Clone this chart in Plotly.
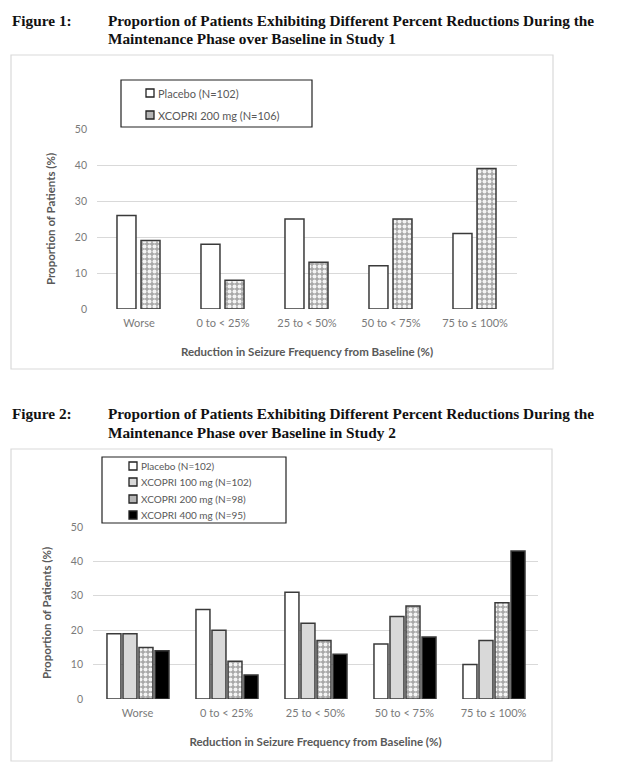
import plotly.graph_objects as go

W, H = 625, 769

categories = ["Worse", "0 to < 25%", "25 to < 50%", "50 to < 75%", "75 to ≤ 100%"]

# Study 1
s1_names = ["Placebo (N=102)", "XCOPRI 200 mg (N=106)"]
s1_placebo = [26, 18, 25, 12, 21]
s1_x200 = [19, 8, 13, 25, 39]

# Study 2
s2_names = ["Placebo (N=102)", "XCOPRI 100 mg (N=102)", "XCOPRI 200 mg (N=98)", "XCOPRI 400 mg (N=95)"]
s2_placebo = [19, 26, 31, 16, 10]
s2_x100 = [19, 20, 22, 24, 17]
s2_x200 = [15, 11, 17, 27, 28]
s2_x400 = [14, 7, 13, 18, 43]

yticks = [0, 10, 20, 30, 40, 50]

TICK_TXT = "#7a7a7a"
TITLE_TXT = "#595959"
GRID = "#d9d9d9"
EDGE = "#3a3a3a"
FONT = "Lato, 'Open Sans', sans-serif"
SERIF = "'Liberation Serif', 'Times New Roman', serif"


def px_x(x):
    return x / W


def px_y(y):
    return 1 - y / H


pattern200 = dict(shape=".", bgcolor="#a8a8a8", fgcolor="#f4f4f4", size=5, solidity=0.5, fillmode="replace")
line = dict(color=EDGE, width=1.5)

fig = go.Figure()

# ---- Figure 1 traces
fig.add_trace(go.Bar(x=categories, y=s1_placebo, name=s1_names[0],
                     marker=dict(color="white", line=line),
                     width=0.226, offset=-0.262, xaxis="x", yaxis="y"))
fig.add_trace(go.Bar(x=categories, y=s1_x200, name=s1_names[1],
                     marker=dict(color="#a8a8a8", pattern=pattern200, line=line),
                     width=0.226, offset=0.024, xaxis="x", yaxis="y"))

# ---- Figure 2 traces
w2 = 0.157
fig.add_trace(go.Bar(x=categories, y=s2_placebo, name=s2_names[0],
                     marker=dict(color="white", line=line),
                     width=w2, offset=-0.343, xaxis="x2", yaxis="y2"))
fig.add_trace(go.Bar(x=categories, y=s2_x100, name=s2_names[1],
                     marker=dict(color="#d9d9d9", line=line),
                     width=w2, offset=-0.163, xaxis="x2", yaxis="y2"))
fig.add_trace(go.Bar(x=categories, y=s2_x200, name=s2_names[2],
                     marker=dict(color="#a8a8a8", pattern=pattern200, line=line),
                     width=w2, offset=0.017, xaxis="x2", yaxis="y2"))
fig.add_trace(go.Bar(x=categories, y=s2_x400, name=s2_names[3],
                     marker=dict(color="black", line=line),
                     width=w2, offset=0.197, xaxis="x2", yaxis="y2"))

xtitle = "Reduction in Seizure Frequency from Baseline (%)"
xaxis_common = dict(type="category", showgrid=False, showline=False, ticks="",
                    automargin=False, ticklabelstandoff=6,
                    tickfont=dict(family=FONT, size=11, color=TICK_TXT),
                    title=dict(text=xtitle, standoff=19,
                               font=dict(family=FONT, size=11.5, color=TITLE_TXT, weight="bold")),
                    fixedrange=True)
yaxis_common = dict(range=[0, 50], tickvals=yticks, showgrid=True, gridcolor=GRID, gridwidth=1,
                    zeroline=False, showline=False, ticks="", ticklabelstandoff=9,
                    automargin=False,
                    tickfont=dict(family=FONT, size=10.5, color=TICK_TXT),
                    title=dict(text="Proportion of Patients (%)",
                               font=dict(family=FONT, size=11.5, color=TITLE_TXT, weight="bold"),
                               standoff=16),
                    fixedrange=True)

fig.update_layout(
    template="none",
    width=W, height=H,
    margin=dict(l=0, r=0, t=0, b=0, pad=0, autoexpand=False),
    paper_bgcolor="white", plot_bgcolor="white",
    barmode="group",
    showlegend=False,
    xaxis=dict(domain=[px_x(97), px_x(517)], anchor="y", **xaxis_common),
    yaxis=dict(domain=[px_y(309), px_y(129)], anchor="x", **yaxis_common),
    xaxis2=dict(domain=[px_x(93), px_x(538)], anchor="y2", **xaxis_common),
    yaxis2=dict(domain=[px_y(699), px_y(527)], anchor="x2", **yaxis_common),
)

# Chart boxes
for (x0, y0, x1, y1) in [(11, 55, 553, 369), (11, 449, 552, 761)]:
    fig.add_shape(type="rect", xref="paper", yref="paper",
                  x0=px_x(x0), x1=px_x(x1), y0=px_y(y1), y1=px_y(y0),
                  line=dict(color="#d9d9d9", width=1.2), fillcolor="rgba(0,0,0,0)", layer="below")


# Legends (boxed, small square keys)
def draw_legend(box, sym_x, text_x, rows, names, fills, fsize):
    x0, y0, x1, y1 = box
    fig.add_shape(type="rect", xref="paper", yref="paper",
                  x0=px_x(x0), x1=px_x(x1), y0=px_y(y1), y1=px_y(y0),
                  line=dict(color="#222222", width=1.2), fillcolor="white", layer="above")
    for yy, nm, fc in zip(rows, names, fills):
        fig.add_shape(type="rect", xref="paper", yref="paper",
                      x0=px_x(sym_x), x1=px_x(sym_x + 8), y0=px_y(yy + 4), y1=px_y(yy - 4),
                      line=dict(color="#222222", width=1.3), fillcolor=fc, layer="above")
        fig.add_annotation(text=nm, xref="paper", yref="paper", x=px_x(text_x), y=px_y(yy),
                           xanchor="left", yanchor="middle", showarrow=False,
                           font=dict(family=FONT, size=fsize, color=TITLE_TXT))


draw_legend((121, 80, 312, 127), 146, 156, [93, 115], s1_names, ["white", "#b5b5b5"], 11)
draw_legend((102, 457, 286, 523), 129, 139, [466, 482, 499, 515], s2_names,
            ["white", "#d9d9d9", "#b5b5b5", "black"], 10)

# Figure titles
title_font = dict(family=SERIF, size=15.3, color="#111111", weight="bold")
for label, y1, study in [("Figure 1:", 20, "1"), ("Figure 2:", 414, "2")]:
    fig.add_annotation(text=label, xref="paper", yref="paper", x=px_x(10), y=px_y(y1),
                       xanchor="left", yanchor="middle", showarrow=False, font=title_font)
    fig.add_annotation(text="Proportion of Patients Exhibiting Different Percent Reductions During the",
                       xref="paper", yref="paper", x=px_x(106), y=px_y(y1),
                       xanchor="left", yanchor="middle", showarrow=False, font=title_font)
    fig.add_annotation(text="Maintenance Phase over Baseline in Study " + study,
                       xref="paper", yref="paper", x=px_x(106), y=px_y(y1 + 18),
                       xanchor="left", yanchor="middle", showarrow=False, font=title_font)

post = (
    "var s=document.createElement('style');"
    "s.textContent='html,body{margin:0;padding:0;overflow:hidden;width:625px;height:769px;}';"
    "document.head.appendChild(s);"
)
fig.write_html("out.html", config={"displayModeBar": False}, post_script=post)
